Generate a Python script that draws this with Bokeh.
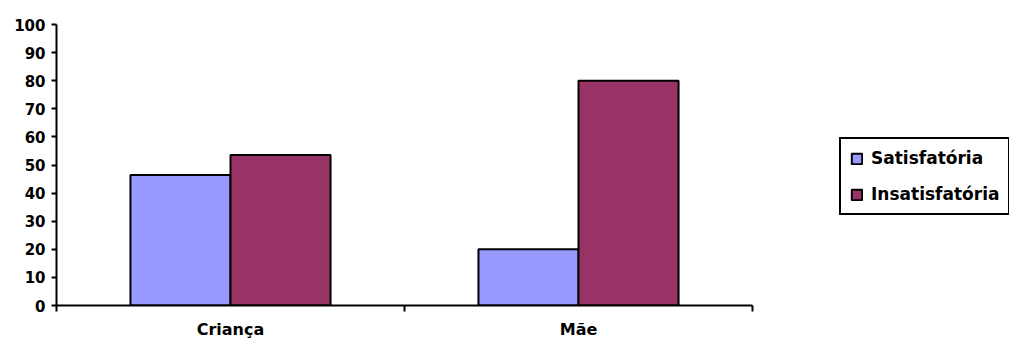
from bokeh.plotting import figure
from bokeh.models import Range1d, FixedTicker, Legend, LegendItem, ColumnDataSource
from bokeh.embed import file_html
from bokeh.resources import INLINE

# Data
categories = ["Criança", "Mãe"]
satisfatoria = [46.4, 20.0]
insatisfatoria = [53.6, 80.0]
series_names = ["Satisfatória", "Insatisfatória"]
series_colors = ["#9999FF", "#993366"]
y_ticks = list(range(0, 101, 10))

FONT = "DejaVu Sans"
bar_w = 0.2875

# The frame spans the full width so the legend can sit to the right of the
# bars; the category axis itself is bounded to the category span.
n = len(categories)
left_px, axis_px, total_px = 56, 696, 1009
x_end = n * (total_px - left_px) / axis_px

p = figure(width=total_px, height=341, output_backend="svg", toolbar_location=None,
           x_range=Range1d(0, x_end), y_range=Range1d(0, 100),
           min_border_left=left_px, min_border_right=0, min_border_top=24,
           min_border_bottom=36)
p.outline_line_color = None
p.xgrid.visible = False
p.ygrid.visible = False
p.background_fill_color = "white"
p.border_fill_color = "white"

centers = [i + 0.5 for i in range(n)]
src_s = ColumnDataSource(dict(x=[c - bar_w / 2 for c in centers], top=satisfatoria))
src_i = ColumnDataSource(dict(x=[c + bar_w / 2 for c in centers], top=insatisfatoria))

r_s = p.vbar(x="x", top="top", bottom=0, width=bar_w, source=src_s,
             fill_color=series_colors[0], line_color="black", line_width=2)
r_i = p.vbar(x="x", top="top", bottom=0, width=bar_w, source=src_i,
             fill_color=series_colors[1], line_color="black", line_width=2)

# Y axis
yax = p.yaxis[0]
yax.ticker = FixedTicker(ticks=y_ticks, minor_ticks=[])
yax.axis_line_color = "black"
yax.axis_line_width = 2
yax.major_tick_line_width = 2
yax.major_tick_out = 5
yax.major_tick_in = 0
yax.minor_tick_line_color = None
yax.major_label_standoff = 6
yax.major_label_text_font = FONT
yax.major_label_text_font_style = "bold"
yax.major_label_text_font_size = "15px"
yax.major_label_text_color = "black"

# X axis: labels at category centres, tick marks at category boundaries
xax = p.xaxis[0]
xax.bounds = (0, n)
xax.ticker = FixedTicker(ticks=centers, minor_ticks=list(range(n + 1)))
xax.major_label_overrides = {c: name for c, name in zip(centers, categories)}
xax.axis_line_color = "black"
xax.axis_line_width = 2
xax.major_tick_line_color = None
xax.major_tick_out = 0
xax.major_tick_in = 0
xax.minor_tick_line_color = "black"
xax.minor_tick_line_width = 2
xax.minor_tick_out = 6
xax.minor_tick_in = 0
xax.major_label_standoff = 8
xax.major_label_text_font = FONT
xax.major_label_text_font_style = "bold"
xax.major_label_text_font_size = "16px"
xax.major_label_text_color = "black"

legend = Legend(items=[LegendItem(label=series_names[0], renderers=[r_s]),
                       LegendItem(label=series_names[1], renderers=[r_i])],
                location=(783, 90))
legend.border_line_color = "black"
legend.border_line_alpha = 1.0
legend.border_line_width = 2
legend.background_fill_color = "white"
legend.background_fill_alpha = 1
legend.label_text_font = FONT
legend.label_text_font_style = "bold"
legend.label_text_font_size = "17px"
legend.label_text_color = "black"
legend.glyph_width = 13
legend.glyph_height = 13
legend.label_standoff = 8
legend.spacing = 16
legend.padding = 9
legend.margin = 0
p.add_layout(legend, "center")

open("out.html", "w").write(file_html(p, INLINE))
